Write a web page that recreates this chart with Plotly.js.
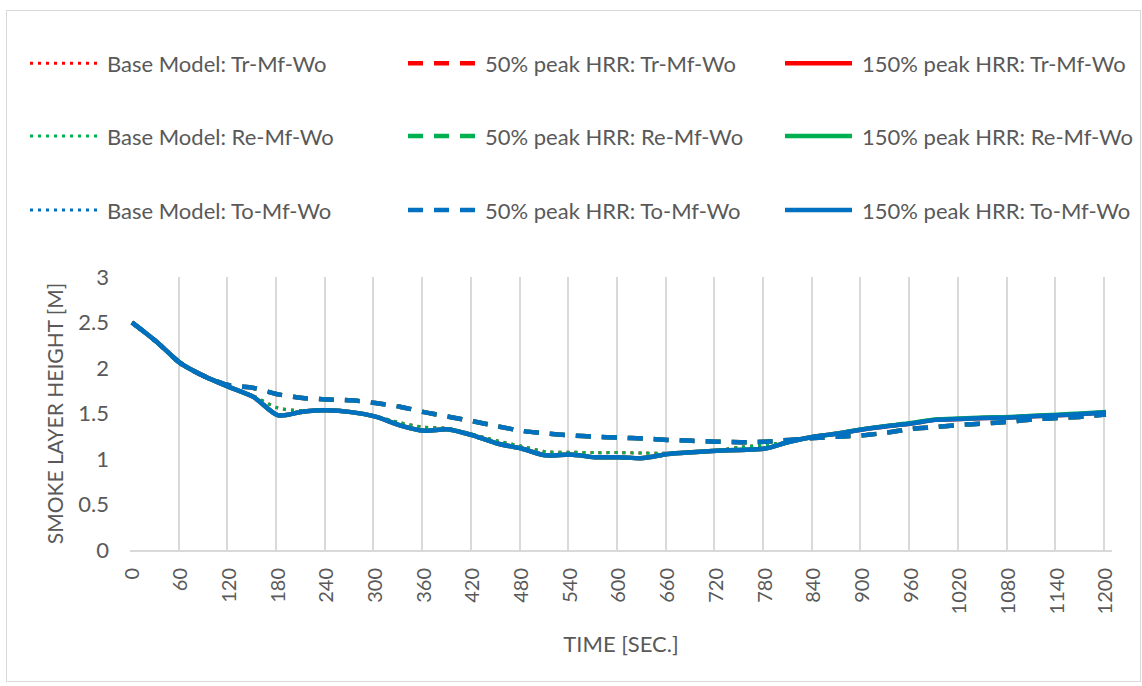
<!DOCTYPE html>
<html><head><meta charset="utf-8">
<script src="https://cdn.plot.ly/plotly-3.0.1.min.js"></script>
<style>
html,body{margin:0;padding:0;background:#fff;}
#wrap{position:relative;width:1142px;height:686px;}
#chart{width:1142px;height:686px;}
#frame{position:absolute;left:6px;top:10px;width:1133px;height:670px;border:1px solid #d9d9d9;pointer-events:none;}
</style></head><body>
<div id="wrap"><div id="chart"></div><div id="frame"></div></div>
<script>
const timeSec = [0,30,60,90,120,150,180,210,240,270,300,330,360,390,420,450,480,510,540,570,600,630,660,690,720,750,780,810,840,870,900,930,960,990,1020,1050,1080,1110,1140,1170,1200];

const xTickVals = [0,60,120,180,240,300,360,420,480,540,600,660,720,780,840,900,960,1020,1080,1140,1200];
const xTickText = ['0','60','120','180','240','300','360','420','480','540','600','660','720','780','840','900','960','1020','1080','1140','1200'];

const seriesNames = [
  'Base Model: Tr-Mf-Wo','50% peak HRR: Tr-Mf-Wo','150% peak HRR: Tr-Mf-Wo',
  'Base Model: Re-Mf-Wo','50% peak HRR: Re-Mf-Wo','150% peak HRR: Re-Mf-Wo',
  'Base Model: To-Mf-Wo','50% peak HRR: To-Mf-Wo','150% peak HRR: To-Mf-Wo'
];

const baseTr = [2.50,2.29,2.05,1.905,1.79,1.69,1.56,1.53,1.535,1.515,1.47,1.40,1.35,1.335,1.27,1.20,1.14,1.08,1.075,1.07,1.07,1.065,1.065,1.08,1.095,1.13,1.155,1.19,1.245,1.28,1.325,1.36,1.39,1.43,1.44,1.45,1.455,1.47,1.48,1.495,1.51];
const halfTr = [2.50,2.29,2.05,1.905,1.81,1.78,1.71,1.67,1.655,1.645,1.615,1.575,1.515,1.465,1.415,1.36,1.31,1.28,1.26,1.245,1.235,1.225,1.21,1.20,1.19,1.185,1.19,1.21,1.23,1.245,1.26,1.29,1.33,1.35,1.375,1.39,1.41,1.435,1.45,1.465,1.49];
const fullTr = [2.50,2.29,2.05,1.905,1.79,1.68,1.48,1.52,1.535,1.515,1.465,1.37,1.31,1.325,1.26,1.17,1.115,1.04,1.05,1.02,1.02,1.01,1.055,1.075,1.09,1.10,1.115,1.19,1.245,1.28,1.325,1.36,1.39,1.43,1.44,1.45,1.455,1.47,1.48,1.495,1.51];

const baseRe = [2.50,2.29,2.05,1.905,1.79,1.69,1.56,1.53,1.535,1.515,1.47,1.40,1.35,1.335,1.27,1.20,1.14,1.08,1.075,1.07,1.07,1.065,1.065,1.08,1.095,1.13,1.155,1.19,1.245,1.28,1.325,1.36,1.39,1.43,1.44,1.45,1.455,1.47,1.48,1.495,1.51];
const halfRe = [2.50,2.29,2.05,1.905,1.81,1.78,1.71,1.67,1.655,1.645,1.615,1.575,1.515,1.465,1.415,1.36,1.31,1.28,1.26,1.245,1.235,1.225,1.21,1.20,1.19,1.185,1.19,1.21,1.23,1.245,1.26,1.29,1.33,1.35,1.375,1.39,1.41,1.435,1.45,1.465,1.49];
const fullRe = [2.50,2.29,2.05,1.905,1.79,1.68,1.48,1.52,1.535,1.515,1.465,1.37,1.31,1.325,1.26,1.17,1.115,1.04,1.05,1.02,1.02,1.01,1.055,1.075,1.09,1.10,1.115,1.19,1.245,1.28,1.328,1.364,1.395,1.435,1.446,1.456,1.461,1.476,1.486,1.501,1.516];

const baseTo = [2.50,2.29,2.05,1.905,1.79,1.68,1.48,1.52,1.535,1.515,1.465,1.37,1.31,1.325,1.26,1.17,1.115,1.04,1.05,1.02,1.02,1.01,1.055,1.075,1.09,1.10,1.115,1.19,1.245,1.28,1.325,1.36,1.39,1.43,1.44,1.45,1.455,1.47,1.48,1.495,1.51];
const halfTo = [2.50,2.29,2.05,1.905,1.81,1.78,1.71,1.67,1.655,1.645,1.615,1.575,1.515,1.465,1.415,1.36,1.31,1.28,1.26,1.245,1.235,1.225,1.21,1.20,1.19,1.185,1.19,1.21,1.23,1.245,1.26,1.29,1.33,1.35,1.375,1.39,1.41,1.435,1.45,1.465,1.49];
const fullTo = [2.50,2.29,2.05,1.905,1.79,1.68,1.48,1.52,1.535,1.515,1.465,1.37,1.31,1.325,1.26,1.17,1.115,1.04,1.05,1.02,1.02,1.01,1.055,1.075,1.09,1.10,1.115,1.19,1.245,1.28,1.325,1.36,1.39,1.43,1.44,1.45,1.455,1.47,1.48,1.495,1.51];

const seriesValues = [baseTr, halfTr, fullTr, baseRe, halfRe, fullRe, baseTo, halfTo, fullTo];
const seriesColors = ['#FF0000','#FF0000','#FF0000','#00B050','#00B050','#00B050','#0070C0','#0070C0','#0070C0'];
const seriesDash = ['3px,5px','15px,11px','solid','3px,5px','15px,11px','solid','3px,5px','15px,11px','solid'];
const seriesWidth = [3,4.5,4.5,3,4.5,4.5,3,4.5,4.5];

const FONT = 'Lato, "Open Sans", sans-serif';
const GREY = '#595959';

// plot area in pixels: x 130..1112, y 277..550.5
const L = 130, W = 982, T = 277, B = 550.5;
const colPx = [25, 403, 780];
const rowPx = [63, 136, 210];

const legendIds = ['legend','legend2','legend3','legend4','legend5','legend6','legend7','legend8','legend9'];

const data = seriesValues.map((vals, i) => ({
  type: 'scatter', mode: 'lines',
  x: timeSec, y: vals,
  name: seriesNames[i],
  legend: legendIds[i],
  line: {color: seriesColors[i], dash: seriesDash[i], width: seriesWidth[i], shape: 'spline', smoothing: 0.8},
  hoverinfo: 'skip'
}));

const layout = {
  width: 1142, height: 686,
  paper_bgcolor: '#ffffff', plot_bgcolor: '#ffffff',
  margin: {l: L, r: 1142 - L - W, t: T, b: 686 - B, pad: 0, autoexpand: false},
  font: {family: FONT, color: GREY},
  showlegend: true,
  xaxis: {
    range: [-2.5, 1207.5], automargin: false,
    tickmode: 'array', tickvals: xTickVals, ticktext: xTickText,
    tickangle: -90, ticks: '', ticklabelstandoff: 8,
    tickfont: {family: FONT, size: 20, color: GREY},
    showgrid: false, zeroline: false,
    showline: true, linecolor: '#d9d9d9', linewidth: 2,
    minor: {tickmode: 'linear', tick0: -2.5, dtick: 60, showgrid: true, gridcolor: '#d9d9d9', gridwidth: 2, ticks: ''},
    title: {text: 'TIME [SEC.]', font: {family: FONT, size: 22, color: GREY}, standoff: 23}
  },
  yaxis: {
    range: [0, 3], automargin: false,
    tickmode: 'linear', tick0: 0, dtick: 0.5,
    ticks: '', ticklabelstandoff: 20,
    tickfont: {family: FONT, size: 22, color: GREY},
    showgrid: false, zeroline: false, showline: false,
    title: {text: 'SMOKE LAYER HEIGHT [M]', font: {family: FONT, size: 21, color: GREY}, standoff: 8}
  }
};

legendIds.forEach((id, i) => {
  const col = i % 3, row = Math.floor(i / 3);
  layout[id] = {
    orientation: 'v', xanchor: 'left', yanchor: 'middle',
    x: (colPx[col] - L) / W,
    y: (B - rowPx[row]) / (B - T),
    itemwidth: 72,
    font: {family: FONT, size: 22, color: GREY},
    bgcolor: 'rgba(0,0,0,0)', borderwidth: 0
  };
});

Plotly.newPlot('chart', data, layout, {staticPlot: true, displayModeBar: false}).then(gd => {
  gd.querySelectorAll('.legendlines path').forEach(p => p.setAttribute('d', 'M5,0h67'));
});
</script>
</body></html>
